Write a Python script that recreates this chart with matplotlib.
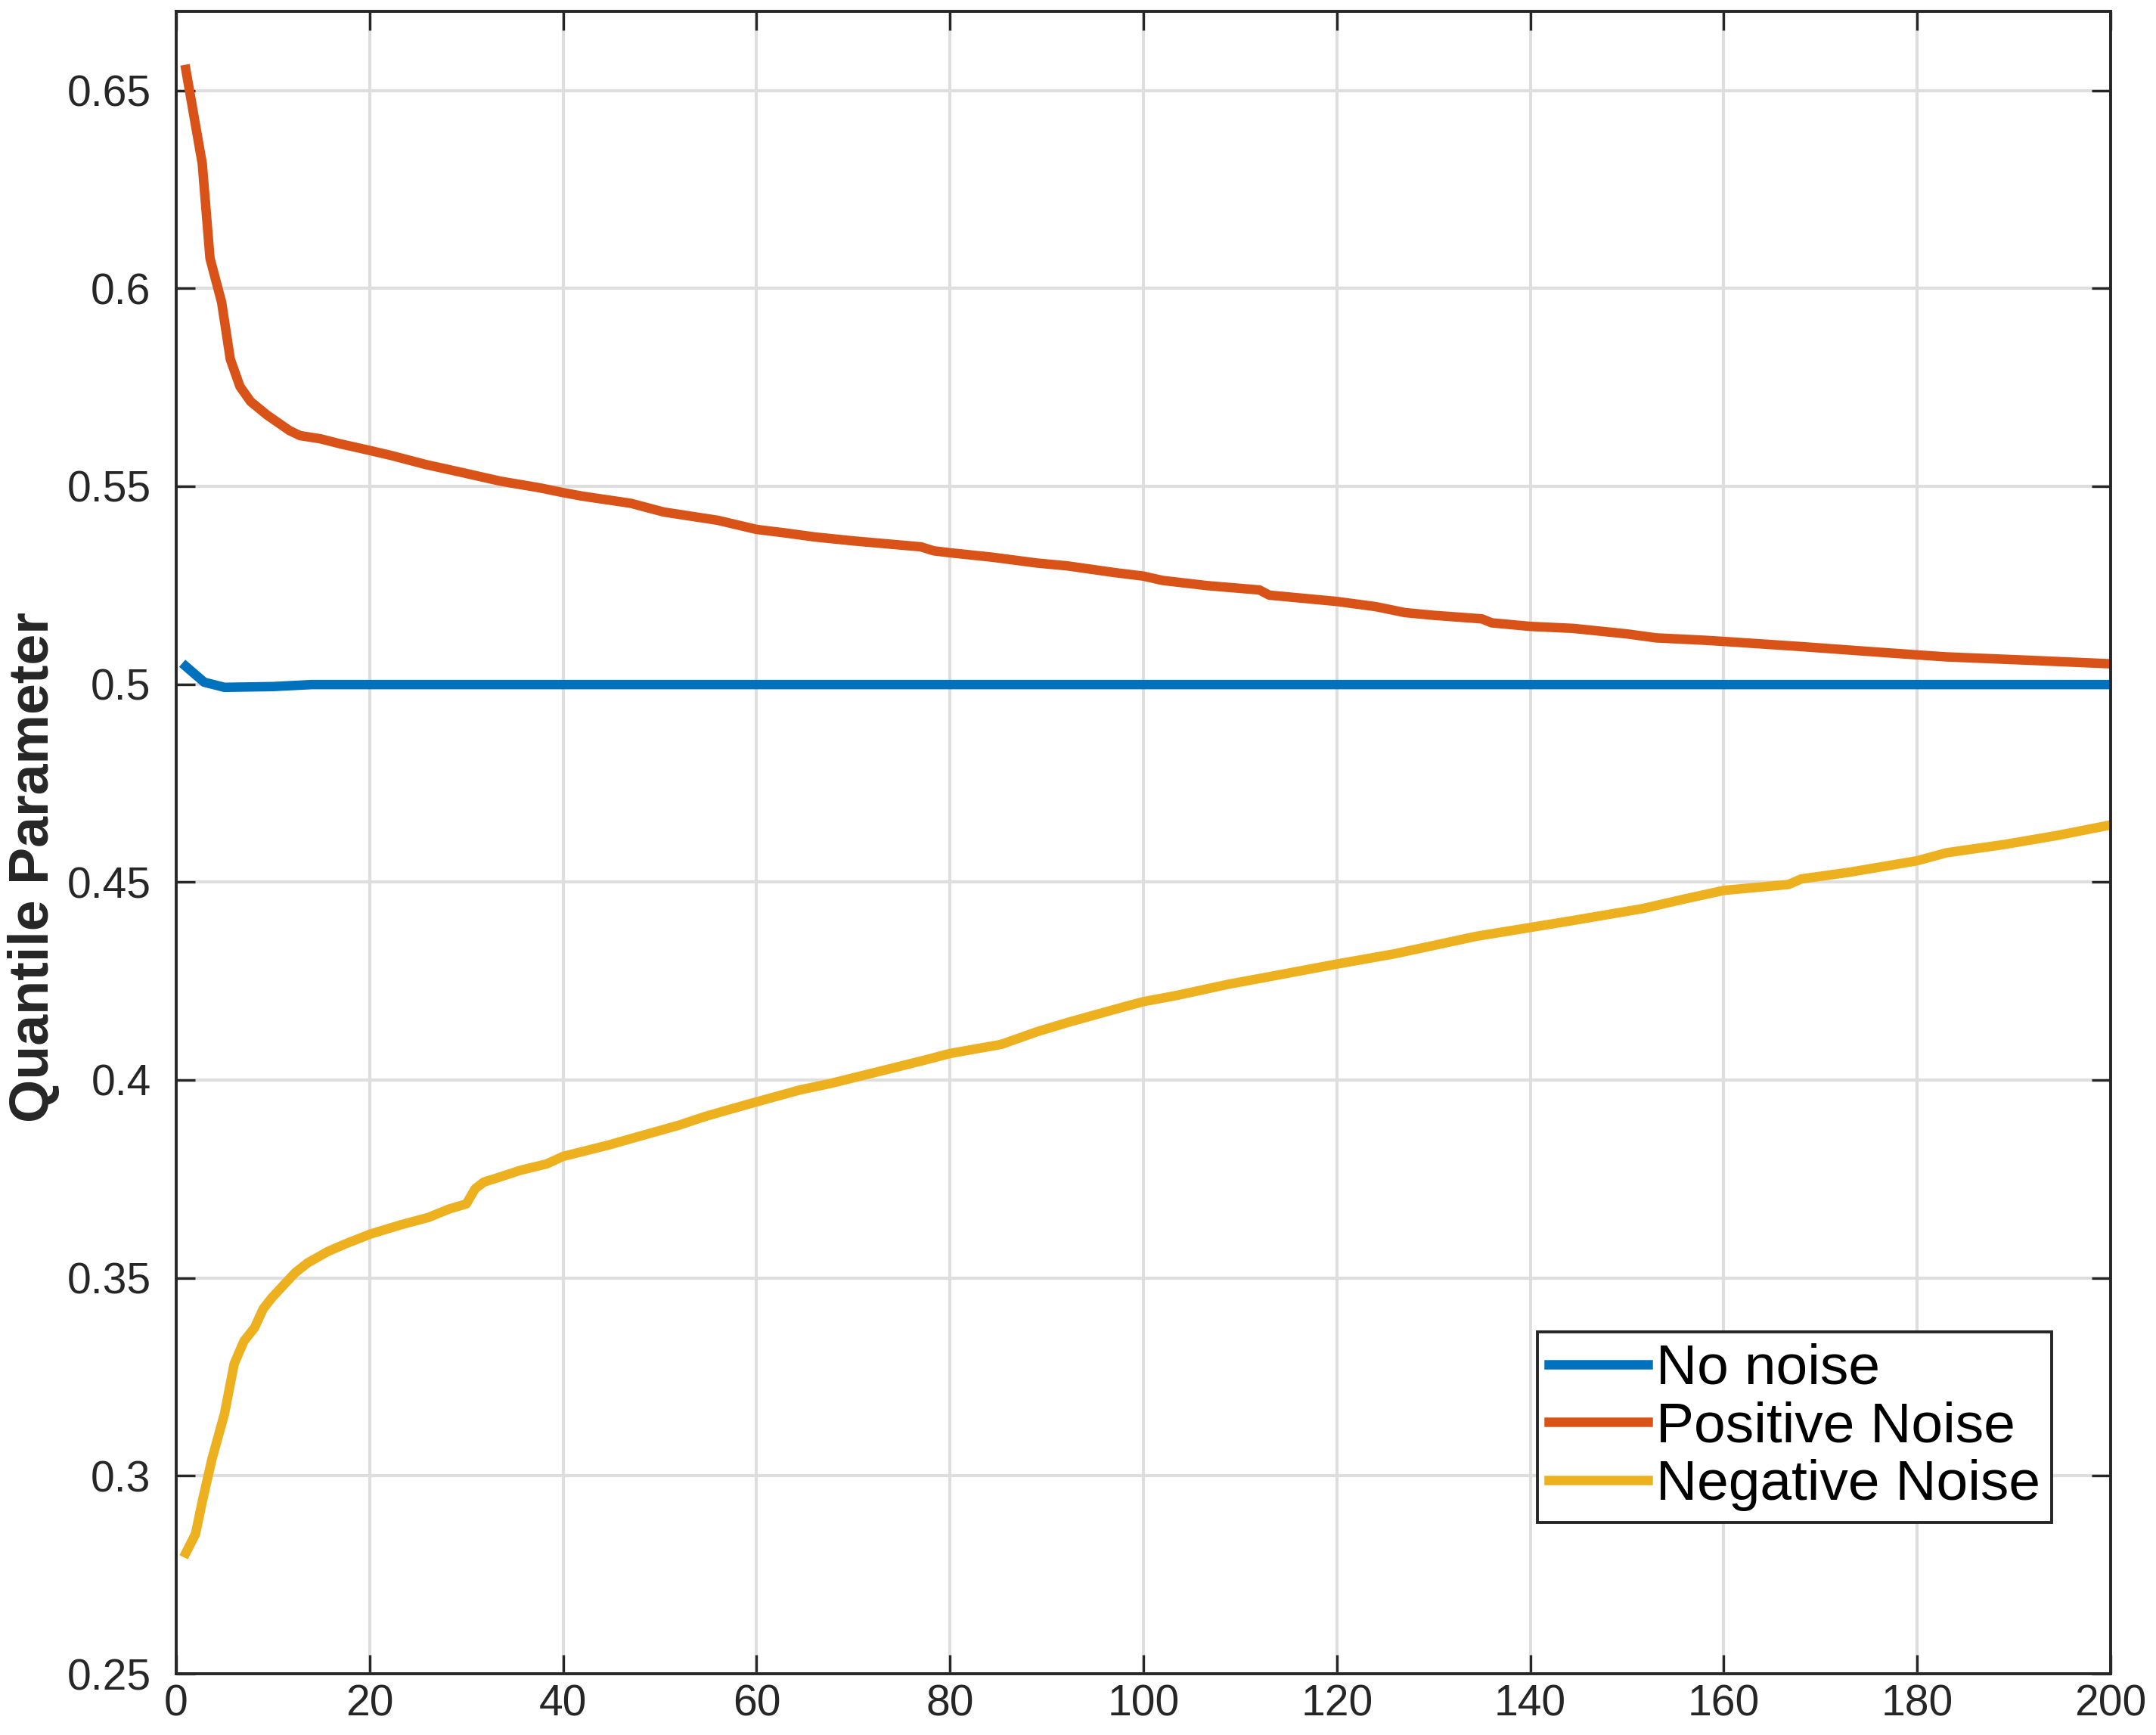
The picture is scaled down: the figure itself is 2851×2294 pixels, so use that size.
"""
Quantile parameter estimate against iterations, for the three noise cases.
"""

# IMPORTs
import matplotlib
matplotlib.use('Agg')

# IMPORTs sub
import matplotlib.pyplot as plt
from matplotlib.ticker import FormatStrFormatter, MultipleLocator

# DATA
no_noise_x = [1, 2.9, 5, 10, 14, 200]
no_noise_y = [0.5045, 0.5005, 0.4992, 0.4994, 0.4999, 0.4999]

positive_x = [
    1, 2.7, 3.5, 4.7, 5.6, 6.6, 7.7, 9.4, 11.7, 12.8, 14.9, 17, 20.1, 22.2, 25.8, 29.7,
    33.5, 37.6, 40, 42, 47, 50.4, 56, 60, 63, 66, 70, 77, 78.3, 80, 84.3, 89, 92.1, 97,
    100, 102, 106.6, 112, 113, 120, 124, 127, 130, 135, 136, 140, 144.4, 150, 153, 158,
    160, 168, 174.8, 180, 183, 191, 199.5,
]
positive_y = [
    0.6553, 0.6315, 0.6076, 0.5965, 0.5821, 0.5752, 0.5714, 0.5680, 0.5641, 0.5628,
    0.5620, 0.5607, 0.5590, 0.5578, 0.5555, 0.5534, 0.5513, 0.5496, 0.5484, 0.5475,
    0.5457, 0.5435, 0.5414, 0.5391, 0.5382, 0.5372, 0.5362, 0.5347, 0.5337, 0.5332,
    0.5321, 0.5306, 0.5299, 0.5282, 0.5273, 0.5262, 0.5249, 0.5238, 0.5225, 0.5209,
    0.5196, 0.5181, 0.5174, 0.5165, 0.5155, 0.5146, 0.5141, 0.5127, 0.5117, 0.5111,
    0.5108, 0.5095, 0.5083, 0.5074, 0.5069, 0.5061, 0.5052,
]

negative_x = [
    1, 2, 2.7, 3.7, 5, 6, 7, 8.1, 9, 9.9, 11, 12.3, 13.6, 15.7, 17.5, 20.1, 23.2, 26.1,
    28.2, 30, 30.9, 31.8, 33.1, 35.6, 38.3, 40, 44.6, 46.9, 52, 54.7, 59, 64.5, 67.6,
    72.9, 77.5, 80, 85.3, 89, 92.4, 98, 100, 103.5, 108.8, 113, 120, 126, 134.4, 138.4,
    144.4, 151.6, 155.7, 160, 166.7, 168, 173, 180, 183, 189, 194.5, 199.5,
]
negative_y = [
    0.2805, 0.2853, 0.2935, 0.3042, 0.3157, 0.3283, 0.3340, 0.3374, 0.3422, 0.3450,
    0.3479, 0.3513, 0.3538, 0.3567, 0.3586, 0.3611, 0.3634, 0.3653, 0.3674, 0.3687,
    0.3725, 0.3742, 0.3752, 0.3772, 0.3788, 0.3807, 0.3835, 0.3851, 0.3886, 0.3908,
    0.3938, 0.3975, 0.3991, 0.4023, 0.4051, 0.4067, 0.4090, 0.4122, 0.4147, 0.4185,
    0.4198, 0.4214, 0.4242, 0.4261, 0.4293, 0.4319, 0.4363, 0.4379, 0.4403, 0.4433,
    0.4456, 0.4479, 0.4494, 0.4508, 0.4525, 0.4554, 0.4574, 0.4595, 0.4618, 0.4642,
]

labels = ['No noise', 'Positive Noise', 'Negative Noise']
colours = ['#0072BD', '#D95319', '#EDB120']

# STYLE
plt.rcParams['font.family'] = ['Liberation Sans', 'DejaVu Sans']
axis_colour = '#262626'


def main() -> None:
    """
    Draws the three curves and saves the figure.
    """

    fig = plt.figure(figsize=(28.51, 22.94), dpi=100)
    ax = fig.add_axes([0.0817, 0.0353, 0.8973, 0.9582])

    # CURVES
    series = [
        (no_noise_x, no_noise_y),
        (positive_x, positive_y),
        (negative_x, negative_y),
    ]
    for (x, y), label, colour in zip(series, labels, colours):
        ax.plot(x, y, color=colour, linewidth=9, label=label, solid_joinstyle='round')

    # AXES
    ax.set_xlim(0, 200)
    ax.set_ylim(0.25, 0.67)
    ax.xaxis.set_major_locator(MultipleLocator(20))
    ax.yaxis.set_major_locator(MultipleLocator(0.05))
    ax.yaxis.set_major_formatter(FormatStrFormatter('%g'))

    ax.grid(True, color='#dedede', linewidth=3)
    ax.set_axisbelow(True)
    for spine in ax.spines.values():
        spine.set_linewidth(2.8)
        spine.set_color(axis_colour)

    ax.tick_params(
        axis='both', which='major', direction='in', length=18, width=2.4,
        colors=axis_colour, labelsize=41, top=True, right=True,
    )
    ax.tick_params(axis='y', pad=24)
    ax.tick_params(axis='x', pad=10)

    ax.set_ylabel('Quantile Parameter', fontsize=53, fontweight='bold', color=axis_colour)
    ax.yaxis.set_label_coords(-0.060, 0.485)

    # LEGEND
    legend = ax.legend(
        loc='lower right', bbox_to_anchor=(0.9695, 0.091), borderaxespad=0,
        fontsize=54, handlelength=1.75, handletextpad=0.15, borderpad=0.2,
        labelspacing=0.1, fancybox=False, framealpha=1, edgecolor=axis_colour,
    )
    legend.get_frame().set_linewidth(2.8)

    fig.savefig('out.png', dpi=100)
    plt.close(fig)



if __name__ == '__main__':

    main()
